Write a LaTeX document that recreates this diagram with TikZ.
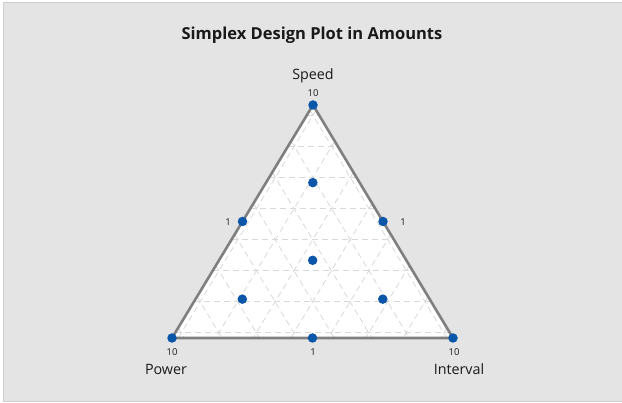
\documentclass[tikz,border=0pt]{standalone}
\usepackage{fontspec}
\setmainfont{Open Sans}
\usepackage{tikz}
\usetikzlibrary{calc}

\definecolor{panelgray}{HTML}{E4E4E4}
\definecolor{framegray}{HTML}{CFCFCF}
\definecolor{edgegray}{HTML}{7F7F7F}
\definecolor{gridgray}{HTML}{D9D9D9}
\definecolor{dotblue}{HTML}{0A56A8}

\tikzset{
  dot/.style={circle,fill=dotblue,inner sep=0pt,minimum size=9.5pt},
  num/.style={font=\fontsize{9.5}{10}\selectfont,text=black!90,inner sep=0pt},
  comp/.style={font=\fontsize{14.3}{15}\selectfont,text=black!90,inner sep=0pt},
  gridline/.style={gridgray,line width=0.8pt,dash pattern=on 6pt off 4pt}
}

\begin{document}
\begin{tikzpicture}[x=1pt,y=-1pt]
\useasboundingbox (0,0) rectangle (622,403);
% 背景
\fill[white] (0,0) rectangle (622,403);
\draw[framegray,fill=panelgray,line width=0.8pt] (3.5,2.5) rectangle (624,401);

\node[font=\fontsize{16.5}{18}\selectfont\bfseries,text=black!90] (title) at (312,35) {Simplex Design Plot in Amounts};

% 三角形の頂点
\coordinate (A) at (313,105); % Speed
\coordinate (B) at (172,338); % Power
\coordinate (C) at (453,338); % Interval

\fill[white] (A) -- (B) -- (C) -- cycle;

% 格子 (0.1 刻み)
\foreach \k in {1,...,8} {
  \pgfmathsetmacro\p{(0.1*\k-1/12)/0.75}
  \draw[gridline] ($(B)!\p!(A)$) -- ($(C)!\p!(A)$);
  \draw[gridline] ($(A)!\p!(B)$) -- ($(C)!\p!(B)$);
  \draw[gridline] ($(A)!\p!(C)$) -- ($(B)!\p!(C)$);
}

\draw[edgegray,line width=2.6pt,line join=miter] (A) -- (B) -- (C) -- cycle;

% 計画点
\node[dot] (vS) at (A) {};
\node[dot] (vP) at (B) {};
\node[dot] (vI) at (C) {};
\node[dot] (mSP) at ($(A)!0.5!(B)$) {};
\node[dot] (mSI) at ($(A)!0.5!(C)$) {};
\node[dot] (mPI) at ($(B)!0.5!(C)$) {};
\node[dot] (ctr) at (barycentric cs:A=1,B=1,C=1) {};
\node[dot] (aS) at (barycentric cs:A=4,B=1,C=1) {};
\node[dot] (aP) at (barycentric cs:A=1,B=4,C=1) {};
\node[dot] (aI) at (barycentric cs:A=1,B=1,C=4) {};

% 目盛りと成分名
\node[num] (tS) at (313,93.5) {10};
\node[num] (tSP) at (228,222) {1};
\node[num] (tSI) at (403,222) {1};
\node[num] (tP) at (172,352) {10};
\node[num] (tPI) at (313,352) {1};
\node[num] (tI) at (454,352) {10};

\node[comp] (lS) at (313,76) {Speed};
\node[comp] (lP) at (166,369) {Power};
\node[comp] (lI) at (459,369) {Interval};
\end{tikzpicture}
\end{document}
